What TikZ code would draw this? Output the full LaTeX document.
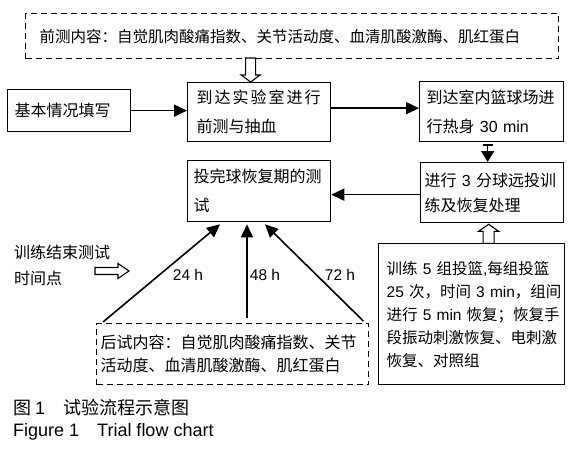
\documentclass[tikz,border=0pt]{standalone}
\usepackage{fontspec}
\setmainfont{Liberation Sans}
\newfontfamily\cjk{Noto Sans CJK SC}
\newfontfamily\latf{Liberation Sans}
\newcommand{\la}[1]{{\latf #1}}
\usetikzlibrary{arrows.meta,calc}
\begin{document}
\begin{tikzpicture}[x=1pt,y=-1pt,
  fz/.style={font=\fontsize{16}{#1}\selectfont\cjk},
  fzs/.style={font=\fontsize{15.5}{#1}\selectfont\cjk},
  box/.style={draw, line width=1.3pt, anchor=north west, align=left, inner ysep=0pt},
  dbox/.style={box, dash pattern=on 6pt off 4pt},
  arr/.style={line width=1.6pt, -{Triangle[length=13pt,width=12pt]}},
  lbl/.style={font=\fontsize{15.5}{18}\selectfont\latf, inner sep=0pt},
  txt/.style={align=left, anchor=west, inner sep=0pt},
  openarr/.style={draw, line width=1.1pt, fill=white, line join=miter}
]
\useasboundingbox (0,0) rectangle (571,452);

% boxes
\node[dbox, fzs=20, minimum width=533pt, minimum height=45pt, inner xsep=14pt, text width=505pt] (pre) at (25,13)
  {前测内容：自觉肌肉酸痛指数、关节活动度、血清肌酸激酶、肌红蛋白};
\node[box, fz=20, minimum width=123pt, minimum height=42pt, inner xsep=7pt, text width=109pt] (b1) at (7,89)
  {基本情况填写};
\node[box, fz=29, minimum width=143pt, minimum height=59pt, inner xsep=9pt, text width=125pt] (b2) at (187,82)
  {\makebox[124pt][s]{到\hfil 达\hfil 实\hfil 验\hfil 室\hfil 进\hfil 行}\\前测与抽血};
\node[box, fz=29, minimum width=144pt, minimum height=60pt, inner xsep=7pt, text width=130pt] (b3) at (419,81)
  {到达室内篮球场进\\行热身~\la{30~min}};
\node[box, fz=29, minimum width=143pt, minimum height=61pt, inner xsep=6pt, text width=131pt] (b4) at (187,160)
  {投完球恢复期的测\\试};
\node[box, fz=25, minimum width=143pt, minimum height=60pt, inner xsep=4pt, text width=135pt] (b5) at (420,162)
  {进行~\la{3}~分球远投训\\练及恢复处理};
\node[box, fzs=23, minimum width=186pt, minimum height=141pt, inner xsep=8pt, text width=170pt] (b6) at (378,243)
  {训练~\la{5}~组投篮\la{,}每组投篮\\
   \la{25}~次，时间~\la{3~min}，组间\\
   进行~\la{5~min}~恢复；恢复手\\
   段振动刺激恢复、电刺激\\
   恢复、对照组};
\node[dbox, fz=23, minimum width=272pt, minimum height=61pt, inner xsep=4pt, text width=264pt] (post) at (96,323)
  {后试内容：自觉肌肉酸痛指数、关节\\活动度、血清肌酸激酶、肌红蛋白};

% side text
\node[txt, fz=26] (tp) at (14,265) {训练结束测试\\时间点};

% labels
\node[lbl] (l24) at (188,275) {24 h};
\node[lbl] (l48) at (265,275) {48 h};
\node[lbl] (l72) at (340,275) {72 h};

% captions
\node[txt, font=\fontsize{18}{20}\selectfont\cjk] (cap1) at (13,408)
  {\makebox[50pt][l]{图~\la{1}}试验流程示意图};
\node[txt, font=\fontsize{18}{20}\selectfont\latf] (cap2) at (13,432)
  {\makebox[84pt][l]{Figure 1}Trial flow chart};

% connectors
\draw[arr] (b1.east) -- (b1.east -| b2.west);
\coordinate (a2) at ($(b2.east)+(0,-4)$);
\draw[arr] (a2) -- (a2 -| b3.west);
\coordinate (a3) at ($(b3.south)+(-4,2)$);
\draw[line width=1.6pt, {Bar[width=10pt,line width=1.2pt]}-{Triangle[length=11pt,width=13pt]}] (a3) -- (a3 |- b5.north);
\coordinate (a5) at ($(b5.west)+(0,2)$);
\draw[arr] (a5) -- (a5 -| b4.east);
\draw[arr] ($(post.north west)+(7,-1)$) -- ($(b4.south west)+(33,2)$);
\draw[arr] ($(post.north west)+(151,-5)$) -- ($(b4.south west)+(60,2)$);
\draw[arr] ($(post.north east)+(-6,-2)$) -- ($(b4.south west)+(78,2)$);

% open (outline) arrows
\coordinate (oa1) at ($(b2.north)+(-8.5,0)$);
\draw[openarr] (oa1) -- ++(-9.5,-7) -- ++(4.5,0) -- ++(0,-17) -- ++(10,0) -- ++(0,17) -- ++(4.5,0) -- cycle;
\coordinate (oa2) at ($(b5.south)+(-3.5,1)$);
\draw[openarr] (oa2) -- ++(-10,7) -- ++(4.5,0) -- ++(0,12) -- ++(11,0) -- ++(0,-12) -- ++(4.5,0) -- cycle;
\coordinate (oa3) at (129,271);
\draw[openarr] (oa3) -- ++(-11,-7.5) -- ++(0,4) -- ++(-23,0) -- ++(0,7) -- ++(23,0) -- ++(0,4) -- cycle;
\end{tikzpicture}
\end{document}
